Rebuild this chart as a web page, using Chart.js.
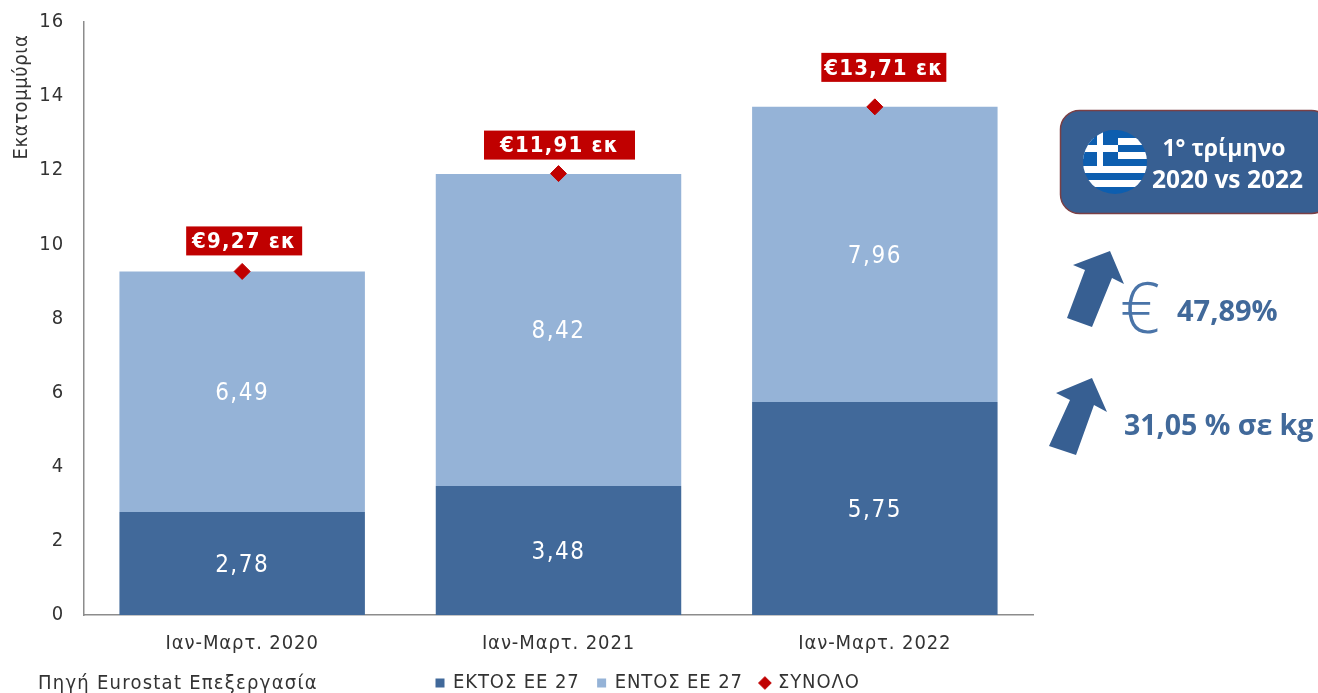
<!DOCTYPE html>
<html lang="el">
<head>
<meta charset="UTF-8">
<title>Εκατομμύρια</title>
<script src="https://cdn.jsdelivr.net/npm/chart.js"></script>
<style>
    html, body { margin: 0; padding: 0; background: #fff; overflow: hidden; }
    #wrap { position: relative; width: 1318px; height: 693px; }
    #side { position: absolute; left: 0; top: 0; }
    #source { position: absolute; left: 38px; top: 670px; font: 20px "DejaVu Sans Condensed", "DejaVu Sans"; letter-spacing: 1.25px; color: #333; }
</style>
</head>
<body>
<div id="wrap">
    <canvas id="chart" width="1318" height="693"></canvas>
    <svg id="side" width="1318" height="693" viewBox="0 0 1318 693">
        <defs><clipPath id="flagClip"><circle cx="1115" cy="162" r="32"/></clipPath></defs>
        <rect x="1060.5" y="110.5" width="270" height="103" rx="19" fill="#375F92" stroke="#7A3F45" stroke-width="1.5"/>
        <g clip-path="url(#flagClip)">
            <rect x="1083" y="130" width="64" height="64" fill="#0D5EAF"/>
            <rect x="1083" y="138" width="64" height="7" fill="#fff"/>
            <rect x="1083" y="152" width="64" height="7" fill="#fff"/>
            <rect x="1083" y="166" width="64" height="7" fill="#fff"/>
            <rect x="1083" y="180" width="64" height="7" fill="#fff"/>
            <rect x="1083" y="130" width="35" height="29" fill="#0D5EAF"/>
            <rect x="1097" y="130" width="6" height="36" fill="#fff"/>
            <rect x="1083" y="145" width="35" height="7" fill="#fff"/>
        </g>
        <text x="1224" y="156" text-anchor="middle" font-family="Open Sans" font-weight="700" font-size="23" fill="#fff">1° τρίμηνο</text>
        <text x="1227.5" y="188" text-anchor="middle" font-family="Open Sans" font-weight="700" font-size="24.5" fill="#fff">2020 vs 2022</text>
        <polygon points="1110,251 1073,265 1085,270 1067,318 1092,327 1112,278 1124,284" fill="#375F92"/>
        <polygon points="1092,378 1056,393 1070,400 1049,446 1076,455 1094,405 1107,412" fill="#375F92"/>
        <text x="1120" y="333" font-family="Open Sans" font-weight="300" font-size="70" fill="#4A74A8">€</text>
        <text x="1177" y="321" font-family="Open Sans" font-weight="700" font-size="29" fill="#41699A">47,89%</text>
        <text x="1124" y="435" font-family="Open Sans" font-weight="700" font-size="28.5" fill="#41699A">31,05 % σε kg</text>
    </svg>
    <div id="source">Πηγή Eurostat Επεξεργασία</div>
</div>
<script>
    const categories = ['Ιαν-Μαρτ. 2020', 'Ιαν-Μαρτ. 2021', 'Ιαν-Μαρτ. 2022'];
    const ektos = [2.78, 3.48, 5.75];
    const entos = [6.49, 8.42, 7.96];
    const synolo = [9.27, 11.91, 13.71];

    const axisFont = '"DejaVu Sans Condensed", "DejaVu Sans"';
    const gr = v => v.toFixed(2).replace('.', ',');

    // labels inside the bars + red boxes above the diamonds
    const labelsPlugin = {
        id: 'valueLabels',
        afterDatasetsDraw(chart) {
            const ctx = chart.ctx;
            ctx.save();
            ctx.textAlign = 'center';
            ctx.textBaseline = 'middle';
            ctx.font = '24px ' + axisFont;
            ctx.letterSpacing = '1.5px';
            ctx.fillStyle = '#fff';
            [0, 1].forEach(i => {
                chart.getDatasetMeta(i).data.forEach((bar, j) => {
                    const v = chart.data.datasets[i].data[j];
                    ctx.fillText(gr(v), bar.x, (bar.y + bar.base) / 2 + 2);
                });
            });

            const gaps = [30, 28, 39];
            const boxW = [116, 151, 125];
            const shift = [2, 1, 9];
            ctx.letterSpacing = '1.2px';
            chart.getDatasetMeta(2).data.forEach((pt, j) => {
                const cy = pt.y - gaps[j];
                ctx.fillStyle = '#C00000';
                ctx.fillRect(pt.x + shift[j] - boxW[j] / 2, cy - 15, boxW[j], 29);
                ctx.fillStyle = '#fff';
                ctx.font = 'bold 22px ' + axisFont;
                ctx.fillText('€' + gr(synolo[j]) + ' εκ', pt.x + shift[j], cy + 1);
            });

            // y title sits near the top of the axis
            ctx.translate(22, 97);
            ctx.rotate(-Math.PI / 2);
            ctx.font = '20px ' + axisFont;
            ctx.letterSpacing = '0.6px';
            ctx.fillStyle = '#333';
            ctx.fillText('Εκατομμύρια', 0, 0);
            ctx.restore();
        }
    };

    // legend row is not centred under the plot in the original, text is spaced out a bit
    const legendShift = {
        id: 'legendShift',
        beforeLayout(chart) { chart.ctx.letterSpacing = '0.9px'; },
        beforeDraw(chart) { chart.ctx.letterSpacing = '0.9px'; },
        afterLayout(chart) {
            const lg = chart.legend;
            lg.left = 418;
            lg.right = 880;
            lg.top = 654;
            lg.bottom = 693;
            chart.scales.x.bottom = 670; // tick labels get clipped to the scale box otherwise
        }
    };

    new Chart(document.getElementById('chart'), {
        data: {
            labels: categories,
            datasets: [
                { type: 'bar', label: 'ΕΚΤΟΣ ΕΕ 27', data: ektos, backgroundColor: '#41699A', stack: 's', order: 2, pointStyle: 'rect', categoryPercentage: 1, barPercentage: 0.776 },
                { type: 'bar', label: 'ΕΝΤΟΣ ΕΕ 27', data: entos, backgroundColor: '#95B3D7', stack: 's', order: 2, pointStyle: 'rect', categoryPercentage: 1, barPercentage: 0.776 },
                { type: 'line', label: 'ΣΥΝΟΛΟ', data: synolo, showLine: false, order: 1, pointStyle: 'rectRot', pointRadius: 8, pointHoverRadius: 8, backgroundColor: '#C00000', borderColor: '#C00000' }
            ]
        },
        options: {
            responsive: false,
            animation: false,
            layout: { padding: { left: 0, right: 285, top: 22, bottom: 0 } },
            plugins: {
                title: { display: false },
                tooltip: { enabled: false },
                legend: {
                    position: 'bottom',
                    align: 'start',
                    labels: {
                        usePointStyle: true,
                        boxHeight: 9,
                        boxWidth: 6,
                        padding: 19,
                        color: '#333',
                        font: { family: axisFont, size: 20 },
                        sort: (a, b) => a.datasetIndex - b.datasetIndex
                    }
                }
            },
            scales: {
                x: {
                    stacked: true,
                    grid: { display: false, drawTicks: false },
                    border: { color: '#8C8C8C', width: 1.5 },
                    ticks: { color: '#333', font: { family: axisFont, size: 20 }, padding: 17 },
                    afterFit(scale) { scale.height = 78 - scale.chart.legend.height; }
                },
                y: {
                    stacked: true,
                    min: 0,
                    max: 16,
                    grid: { display: false, drawTicks: false },
                    border: { color: '#8C8C8C', width: 1.5 },
                    ticks: { stepSize: 2, color: '#333', font: { family: axisFont, size: 20 }, padding: 20 },
                    afterFit(scale) { scale.width = 84; scale.paddingTop = 0; scale.paddingBottom = 0; }
                }
            }
        },
        plugins: [labelsPlugin, legendShift]
    });
</script>
</body>
</html>
